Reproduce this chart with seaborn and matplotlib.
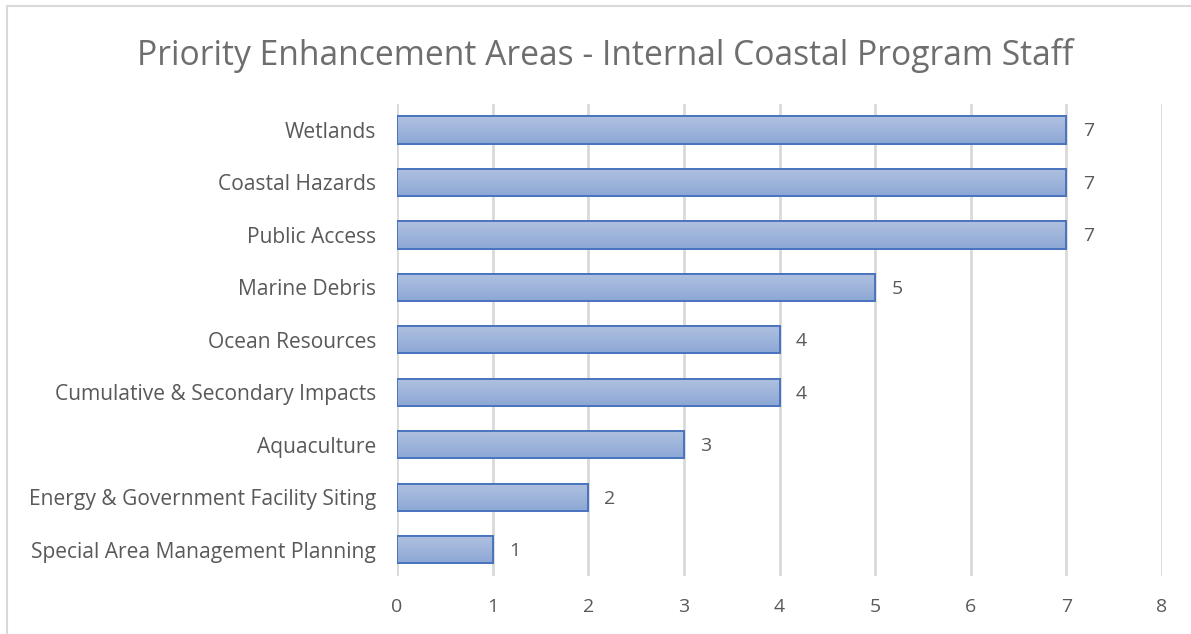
import matplotlib
matplotlib.use("Agg")
import matplotlib.pyplot as plt
import matplotlib.colors as mcolors
from matplotlib.lines import Line2D
import numpy as np
import pandas as pd
import seaborn as sns

categories = [
    "Wetlands",
    "Coastal Hazards",
    "Public Access",
    "Marine Debris",
    "Ocean Resources",
    "Cumulative & Secondary Impacts",
    "Aquaculture",
    "Energy & Government Facility Siting",
    "Special Area Management Planning",
]
counts = [7, 7, 7, 5, 4, 4, 3, 2, 1]
x_ticks = [0, 1, 2, 3, 4, 5, 6, 7, 8]

title = "Priority Enhancement Areas - Internal Coastal Program Staff"

df = pd.DataFrame({"area": categories, "count": counts})

sns.set_theme(style="white")
plt.rcParams["font.family"] = ["Open Sans", "DejaVu Sans"]

TEXT = "#595959"
GRID = "#d9d9d9"
EDGE = "#4a74be"

fig = plt.figure(figsize=(11.91, 6.34), dpi=100)
ax = fig.add_axes([0.3333, 0.0915, 0.6424, 0.745])

sns.barplot(data=df, x="count", y="area", orient="h", color="#9fb5dc",
            width=0.52, edgecolor=EDGE, linewidth=1.4, ax=ax, zorder=3)

# vertical gradient fill inside each bar: lighter on top, deeper below
grad = mcolors.LinearSegmentedColormap.from_list("bar", ["#b0c1e0", "#8ca7d5"])
for patch in ax.patches:
    x0, y0 = patch.get_x(), patch.get_y()
    w, h = patch.get_width(), patch.get_height()
    img = ax.imshow(np.linspace(0, 1, 64).reshape(-1, 1), cmap=grad,
                    extent=[x0, x0 + w, y0 + h, y0], aspect="auto",
                    origin="upper", zorder=3.5, interpolation="bicubic")
    img.set_clip_path(patch)
    outline = plt.Rectangle((x0, y0), w, h, fill=False, edgecolor=EDGE,
                            linewidth=1.4, zorder=4)
    ax.add_patch(outline)

ax.set_xlim(0, 8)
ax.set_ylim(len(categories) - 0.5, -0.5)
ax.set_xticks(x_ticks)
ax.set_xticklabels([str(t) for t in x_ticks])
ax.xaxis.grid(True, color=GRID, linewidth=2)
ax.yaxis.grid(False)
ax.set_axisbelow(True)
for s in ax.spines.values():
    s.set_visible(False)
ax.set_xlabel("")
ax.set_ylabel("")
ax.tick_params(axis="x", length=0, pad=16, labelsize=14, labelcolor=TEXT)
ax.tick_params(axis="y", length=0, pad=15, labelsize=15.1, labelcolor=TEXT)

for i, v in enumerate(counts):
    ax.text(v + 0.17, i + 0.03, str(v), va="center", ha="left", fontsize=14,
            color=TEXT)

fig.text(0.508, 0.912, title, ha="center", va="center", fontsize=24.2,
         color="#6e6e6e")

# chart frame edges
fig.add_artist(Line2D([7 / 1191, 1], [1 - 6 / 634, 1 - 6 / 634],
                      color=GRID, linewidth=1.5, transform=fig.transFigure))
fig.add_artist(Line2D([7 / 1191, 7 / 1191], [0, 1 - 6 / 634],
                      color=GRID, linewidth=1.5, transform=fig.transFigure))

fig.savefig("out.png", dpi=100, facecolor="white")
